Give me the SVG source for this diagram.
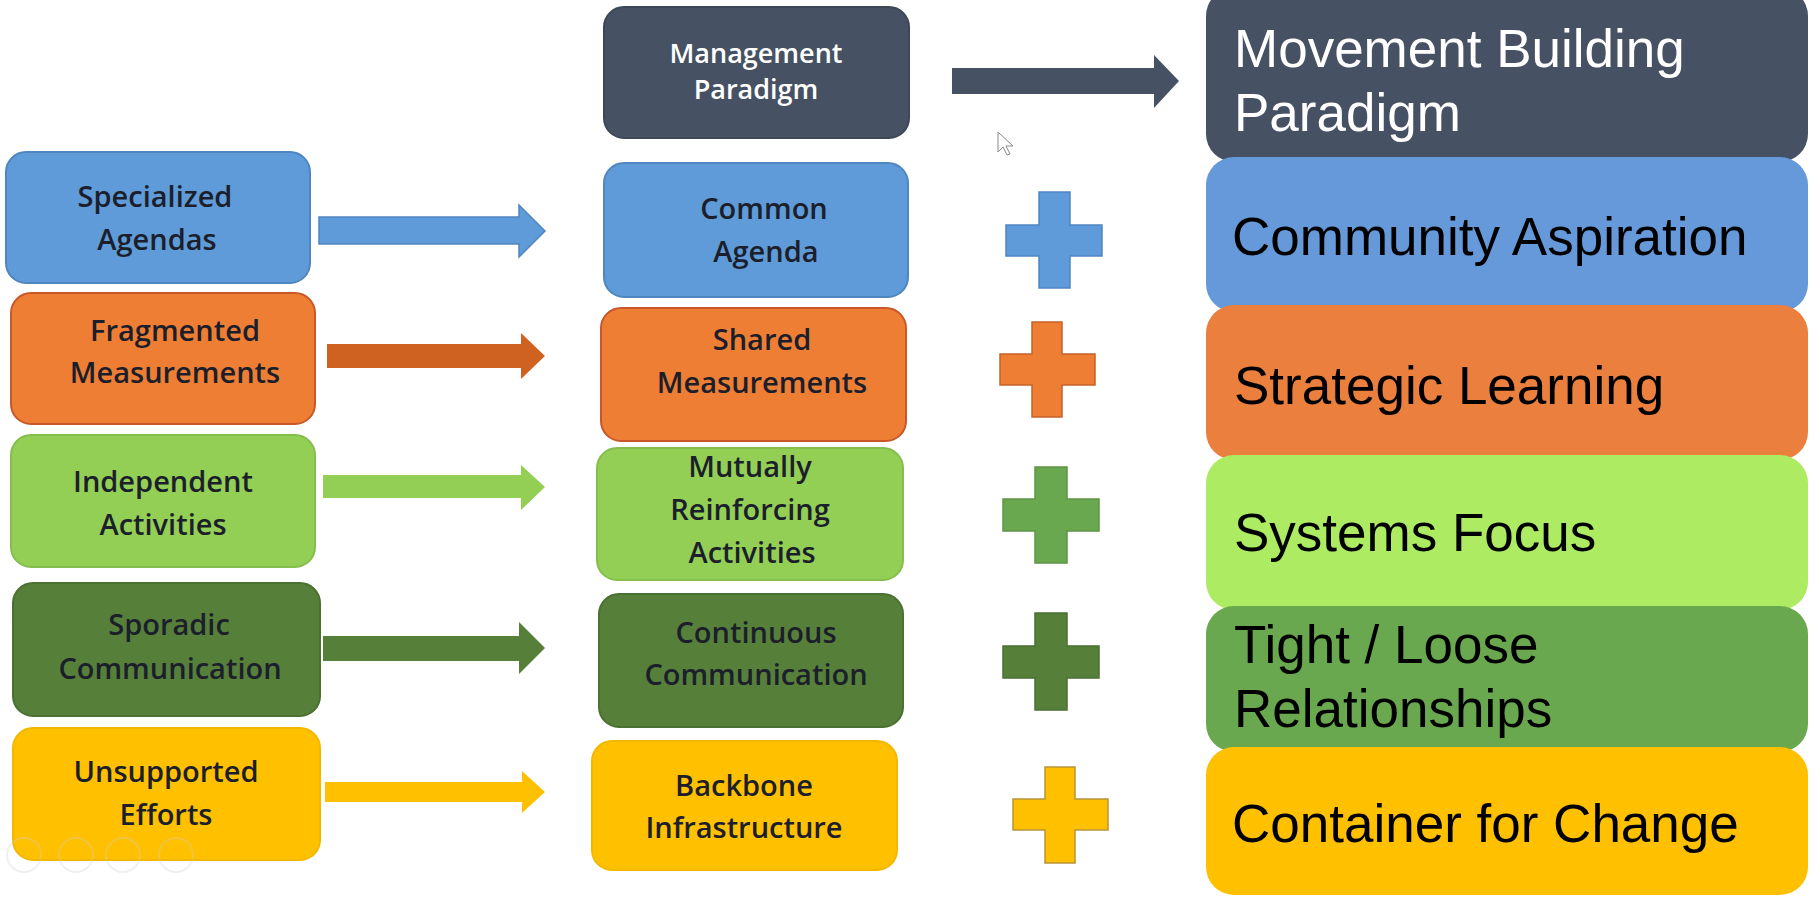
<svg xmlns="http://www.w3.org/2000/svg" width="1810" height="897" viewBox="0 0 1810 897">
<style>
.lbl{font-family:"Open Sans","Liberation Sans",sans-serif;font-size:29px;font-weight:600;fill:#1c1f2b;text-anchor:middle}
.lblw{font-family:"Open Sans","Liberation Sans",sans-serif;font-size:27px;font-weight:600;fill:#ffffff;text-anchor:middle}
.big{font-family:"Liberation Sans",Arial,sans-serif;font-size:53px;fill:#000000}
.bigw{font-family:"Liberation Sans",Arial,sans-serif;font-size:53px;fill:#ffffff}
.blue{fill:#5e9bd8;stroke:#4f86bf;stroke-width:2}
.orange{fill:#ee7e33;stroke:#c8572a;stroke-width:2}
.lgreen{fill:#93cf55;stroke:#86bd4f;stroke-width:2}
.dgreen{fill:#567f3a;stroke:#4a7032;stroke-width:2}
.yellow{fill:#ffc000;stroke:#f2b800;stroke-width:2}
.dark{fill:#465263;stroke:#3d4857;stroke-width:2}
</style>
<rect x="0" y="0" width="1810" height="897" fill="#ffffff"/>

<!-- right column stack -->
<g id="movement-building">
<rect x="1206" y="-12" width="602" height="174" rx="28" fill="#465263"/>
<text class="bigw" x="1234" y="67">Movement Building</text>
<text class="bigw" x="1234" y="131">Paradigm</text>
</g>
<g id="community-aspiration">
<rect x="1206" y="157" width="602" height="155" rx="28" fill="#6699d9"/>
<text class="big" x="1232" y="255">Community Aspiration</text>
</g>
<g id="strategic-learning">
<rect x="1206" y="305" width="602" height="155" rx="28" fill="#ea7f3e"/>
<text class="big" x="1234" y="404">Strategic Learning</text>
</g>
<g id="systems-focus">
<rect x="1206" y="455" width="602" height="155" rx="28" fill="#adeb62"/>
<text class="big" x="1234" y="551">Systems Focus</text>
</g>
<g id="tight-loose">
<rect x="1206" y="606" width="602" height="146" rx="28" fill="#6aa84f"/>
<text class="big" x="1234" y="663">Tight / Loose</text>
<text class="big" x="1234" y="727">Relationships</text>
</g>
<g id="container-for-change">
<rect x="1206" y="747" width="602" height="148" rx="28" fill="#ffc000"/>
<text class="big" x="1232" y="842">Container for Change</text>
</g>

<!-- middle column -->
<g id="management-paradigm">
<rect class="dark" x="604" y="7" width="305" height="131" rx="20"/>
<text class="lblw" x="756" y="63">Management</text>
<text class="lblw" x="756" y="99">Paradigm</text>
</g>
<g id="common-agenda">
<rect class="blue" x="604" y="163" width="304" height="134" rx="20"/>
<text class="lbl" x="764" y="219">Common</text>
<text class="lbl" x="766" y="262">Agenda</text>
</g>
<g id="shared-measurements">
<rect class="orange" x="601" y="308" width="305" height="133" rx="20"/>
<text class="lbl" x="762" y="350">Shared</text>
<text class="lbl" x="762" y="393">Measurements</text>
</g>
<g id="mutually-reinforcing">
<rect class="lgreen" x="597" y="448" width="306" height="132" rx="20"/>
<text class="lbl" x="750" y="477">Mutually</text>
<text class="lbl" x="750" y="520">Reinforcing</text>
<text class="lbl" x="752" y="563">Activities</text>
</g>
<g id="continuous-communication">
<rect class="dgreen" x="599" y="594" width="304" height="133" rx="20"/>
<text class="lbl" x="756" y="643">Continuous</text>
<text class="lbl" x="756" y="685">Communication</text>
</g>
<g id="backbone-infrastructure">
<rect class="yellow" x="592" y="741" width="305" height="129" rx="20"/>
<text class="lbl" x="744" y="796">Backbone</text>
<text class="lbl" x="744" y="838">Infrastructure</text>
</g>

<!-- left column -->
<g id="specialized-agendas">
<rect class="blue" x="6" y="152" width="304" height="131" rx="20"/>
<text class="lbl" x="155" y="207">Specialized</text>
<text class="lbl" x="157" y="250">Agendas</text>
</g>
<g id="fragmented-measurements">
<rect class="orange" x="11" y="293" width="304" height="131" rx="20"/>
<text class="lbl" x="175" y="341">Fragmented</text>
<text class="lbl" x="175" y="383">Measurements</text>
</g>
<g id="independent-activities">
<rect class="lgreen" x="11" y="435" width="304" height="132" rx="20"/>
<text class="lbl" x="163" y="492">Independent</text>
<text class="lbl" x="163" y="535">Activities</text>
</g>
<g id="sporadic-communication">
<rect class="dgreen" x="13" y="583" width="307" height="133" rx="20"/>
<text class="lbl" x="169" y="635">Sporadic</text>
<text class="lbl" x="170" y="679">Communication</text>
</g>
<g id="unsupported-efforts">
<rect class="yellow" x="13" y="728" width="307" height="132" rx="20"/>
<text class="lbl" x="166" y="782">Unsupported</text>
<text class="lbl" x="166" y="825">Efforts</text>
</g>

<!-- connectors -->
<g id="connectors">
<polygon fill="#465263" points="952,68 1154,68 1154,55 1179,81 1154,108 1154,94 952,94"/>
<polygon fill="#5e9bd8" stroke="#4f86bf" stroke-width="1.5" points="319,217 519,217 519,205 545,231 519,257 519,244 319,244"/>
<polygon fill="#cf6220" points="327,344 521,344 521,333 545,356 521,379 521,368 327,368"/>
<polygon fill="#93cf55" points="323,475 521,475 521,465 545,487 521,510 521,498 323,498"/>
<polygon fill="#567f3a" points="323,636 519,636 519,622 545,648 519,674 519,661 323,661"/>
<polygon fill="#ffc000" points="325,782 522,782 522,771 545,792 522,813 522,802 325,802"/>
</g>

<!-- plus signs -->
<g id="plus-blue">
<path fill="#5e9bd8" stroke="#4f86bf" stroke-width="1.5" d="M1039,192 H1070 V225 H1102 V256 H1070 V288 H1039 V256 H1006 V225 H1039 Z"/>
</g>
<g id="plus-orange">
<path fill="#ee7e33" stroke="#c8612a" stroke-width="1.5" d="M1032,322 H1062 V354 H1095 V385 H1062 V417 H1032 V385 H1000 V354 H1032 Z"/>
</g>
<g id="plus-green">
<path fill="#6aa84f" stroke="#5d9446" stroke-width="1.5" d="M1035,467 H1067 V499 H1099 V531 H1067 V563 H1035 V531 H1003 V499 H1035 Z"/>
</g>
<g id="plus-darkgreen">
<path fill="#567f3a" stroke="#4a7032" stroke-width="1.5" d="M1035,613 H1067 V646 H1099 V678 H1067 V710 H1035 V678 H1003 V646 H1035 Z"/>
</g>
<g id="plus-yellow">
<path fill="#ffc000" stroke="#b8923a" stroke-width="1.5" d="M1045,767 H1075 V799 H1108 V830 H1075 V863 H1045 V830 H1013 V799 H1045 Z"/>
</g>

<!-- cursor -->
<path d="M998,132 L998,152 L1003,147 L1007,155 L1010,154 L1006,146 L1013,146 Z" fill="#ffffff" stroke="#8a8a8a" stroke-width="1"/>

<!-- faint player icons -->
<g fill="none" stroke="#d0d0d0" stroke-width="2" opacity="0.3">
<circle cx="24" cy="855" r="17"/>
<circle cx="76" cy="855" r="17"/>
<circle cx="123" cy="855" r="17"/>
<circle cx="176" cy="855" r="17"/>
</g>
</svg>
